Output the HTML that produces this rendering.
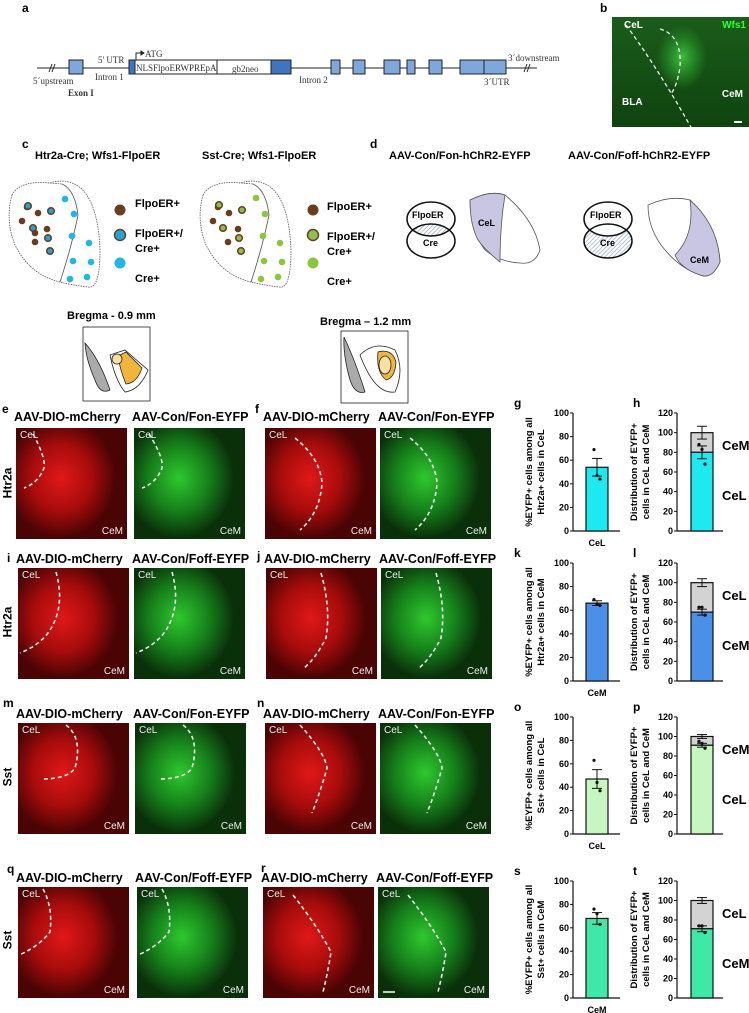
<!DOCTYPE html>
<html><head><meta charset="utf-8">
<style>
body{margin:0;background:#fff;}
#root{position:relative;width:749px;height:1013px;overflow:hidden;font-family:"Liberation Sans",Arial,sans-serif;}
.t{position:absolute;white-space:nowrap;}
.lbl{position:absolute;font-weight:bold;font-size:12px;}
.img{position:absolute;overflow:hidden;}
.ser{font-family:"Liberation Serif",serif;font-size:9px;}
</style></head>
<body>
<div id="root">
<svg id="top" width="749" height="1013" style="position:absolute;left:0;top:0">
 <g stroke="#222" stroke-width="1">
  <line x1="37" y1="68" x2="537" y2="68"/>
  <rect x="69" y="60" width="14" height="14" fill="#7ea7dc"/>
  <rect x="129" y="60" width="6" height="14" fill="#3f74bf"/>
  <rect x="135" y="60" width="82" height="14" fill="#fff"/>
  <rect x="217" y="60" width="54" height="14" fill="#fff"/>
  <rect x="271" y="60" width="20" height="14" fill="#3f74bf"/>
  <rect x="331" y="60" width="9" height="14" fill="#7ea7dc"/>
  <rect x="353" y="60" width="12" height="14" fill="#7ea7dc"/>
  <rect x="384" y="60" width="16" height="14" fill="#7ea7dc"/>
  <rect x="407" y="60" width="8" height="14" fill="#7ea7dc"/>
  <rect x="429" y="60" width="13" height="14" fill="#7ea7dc"/>
  <rect x="460" y="60" width="24" height="14" fill="#7ea7dc"/>
  <rect x="484" y="60" width="22" height="14" fill="#7ea7dc"/>
  <line x1="49" y1="72" x2="52" y2="64"/><line x1="52" y1="72" x2="55" y2="64"/>
  <line x1="524" y1="72" x2="527" y2="64"/><line x1="527" y1="72" x2="530" y2="64"/>
  <path d="M136 60 V53 H143" fill="none"/><path d="M141 51 L144 53 L141 55Z" fill="#222"/>
 </g>
 <g class="ser" fill="#333" font-family="Liberation Serif, serif" font-size="9">
  <text x="98" y="63">5' UTR</text>
  <text x="145" y="57">ATG</text>
  <text x="136" y="71">NLSFlpoERWPREpA</text>
  <text x="232" y="72">gb2neo</text>
  <text x="33" y="84">5´upstream</text>
  <text x="95" y="80">Intron 1</text>
  <text x="68" y="96" font-weight="bold">Exon I</text>
  <text x="299" y="83">Intron 2</text>
  <text x="484" y="85">3´UTR</text>
  <text x="508" y="61">3´downstream</text>
 </g>
 <g fill="none" stroke="#555" stroke-width="0.8" stroke-dasharray="1.5 1">
  <path d="M12 195 Q20 180 50 183 L62 184 Q75 190 78 215 Q72 245 60 282 Q30 275 15 245 Q5 220 12 195Z"/>
  <path d="M50 183 Q65 178 78 186 Q98 200 100 250 Q100 290 88 287 Q72 285 60 282 Q72 245 78 215 Q75 190 62 184"/>
 </g>
 <g fill="none" stroke="#555" stroke-width="0.8" stroke-dasharray="1.5 1">
  <path d="M203 195 Q211 180 241 183 L253 184 Q266 190 269 215 Q263 245 251 282 Q221 275 206 245 Q196 220 203 195Z"/>
  <path d="M241 183 Q256 178 269 186 Q289 200 291 250 Q291 290 279 287 Q263 285 251 282 Q263 245 269 215 Q266 190 253 184"/>
 </g>
 <g id="dots"></g>
 <defs><pattern id="hatch" width="3" height="3" patternUnits="userSpaceOnUse" patternTransform="rotate(45)"><rect width="3" height="3" fill="#fff"/><line x1="0" y1="0" x2="0" y2="3" stroke="#8aa0b8" stroke-width="1.2"/></pattern></defs>
 <g stroke="#111" stroke-width="1.5">
  <clipPath id="c1"><ellipse cx="431" cy="219" rx="24" ry="17"/></clipPath>
  <ellipse cx="431" cy="241" rx="24" ry="17" fill="url(#hatch)" clip-path="url(#c1)" stroke="none"/>
  <ellipse cx="431" cy="219" rx="24" ry="17" fill="none"/>
  <ellipse cx="431" cy="241" rx="24" ry="17" fill="none"/>
 </g>
 <path d="M470 200 Q490 190 505 195 Q535 220 540 250 Q535 265 520 263 Q500 262 485 250 Q470 230 470 200Z" fill="#fff" stroke="#555" stroke-width="0.8"/>
 <path d="M470 200 Q490 190 505 195 Q500 225 500 262 Q485 250 478 240 Q470 225 470 200Z" fill="#c8c6e2" stroke="#555" stroke-width="0.8"/>
 <g stroke="#111" stroke-width="1.5">
  <mask id="m2"><rect x="560" y="190" width="100" height="80" fill="#fff"/><ellipse cx="608" cy="219" rx="24" ry="17" fill="#000"/></mask>
  <ellipse cx="608" cy="241" rx="24" ry="17" fill="url(#hatch)" mask="url(#m2)" stroke="none"/>
  <ellipse cx="608" cy="219" rx="24" ry="17" fill="none"/>
  <ellipse cx="608" cy="241" rx="24" ry="17" fill="none"/>
 </g>
 <path d="M648 205 Q670 195 690 200 Q718 225 720 262 Q712 280 700 275 Q680 268 665 250 Q648 230 648 205Z" fill="#fff" stroke="#555" stroke-width="0.8"/>
 <path d="M690 200 Q718 225 720 262 Q712 280 700 275 Q680 268 675 255 Q695 235 690 200Z" fill="#c8c6e2" stroke="#555" stroke-width="0.8"/>
 <g stroke="#222" stroke-width="0.8">
  <rect x="83" y="327" width="67" height="74" fill="#fff"/>
  <path d="M85 343 Q100 360 110 390 Q100 395 95 380 Q86 360 85 343Z" fill="#aaa"/>
  <path d="M110 355 L125 350 L148 370 Q140 390 125 392 Q115 380 110 355Z" fill="#fff"/>
  <path d="M118 356 L126 352 L142 368 Q137 383 126 384 Q120 370 118 356Z" fill="#f2b53c"/>
  <circle cx="117" cy="359" r="5" fill="#f8e0a0"/>
 </g>
 <g stroke="#222" stroke-width="0.8">
  <rect x="341" y="331" width="67" height="72" fill="#fff"/>
  <path d="M344 337 Q355 360 365 392 Q355 395 350 380 Q343 355 344 337Z" fill="#aaa"/>
  <path d="M360 355 Q375 340 395 350 Q405 370 395 392 Q375 395 360 355Z" fill="#fff"/>
  <path d="M378 352 Q392 348 396 362 Q395 378 386 380 Q376 372 378 352Z" fill="#f2b53c"/>
  <ellipse cx="385" cy="365" rx="6" ry="9" fill="#f8e0a0"/>
 </g>
 <g id="charts"></g>
</svg>

<div class="lbl" style="left:22px;top:1px">a</div>
<div class="lbl" style="left:600px;top:1px">b</div>
<div class="img" style="left:612px;top:17px;width:137px;height:110px;background:radial-gradient(ellipse 25px 32px at 70px 40px,#3fb83f,#1e7a1e 60%,transparent 100%),linear-gradient(#1a5d1a,#0f430f)">
 <svg width="137" height="110" style="position:absolute;left:0;top:0"><path d="M14 8 Q45 50 80 112" stroke="#fff" stroke-width="1.2" stroke-dasharray="4 3" fill="none"/><path d="M48 12 Q70 18 68 50 Q65 70 58 78" stroke="#fff" stroke-width="1.2" stroke-dasharray="4 3" fill="none"/><line x1="122" y1="105" x2="130" y2="105" stroke="#fff" stroke-width="2"/></svg>
 <span class="t" style="left:12px;top:3px;color:#fff;font-weight:bold;font-size:10px">CeL</span>
 <span class="t" style="right:3px;top:3px;color:#3f3;font-weight:bold;font-size:10px">Wfs1</span>
 <span class="t" style="left:10px;top:80px;color:#fff;font-weight:bold;font-size:10px">BLA</span>
 <span class="t" style="right:6px;top:72px;color:#fff;font-weight:bold;font-size:10px">CeM</span>
</div>

<div class="lbl" style="left:22px;top:137px">c</div>
<div class="t" style="left:35px;top:150px;font-size:11px;font-weight:bold">Htr2a-Cre; Wfs1-FlpoER</div>
<div class="t" style="left:202px;top:150px;font-size:11px;font-weight:bold">Sst-Cre; Wfs1-FlpoER</div>
<div class="t" style="left:135px;top:197px;font-size:11px;font-weight:bold;line-height:15px">FlpoER+<br><br style="line-height:6px">FlpoER+/<br>Cre+<br><br style="line-height:6px">Cre+</div>
<div class="t" style="left:327px;top:200px;font-size:11px;font-weight:bold;line-height:15px">FlpoER+<br><br style="line-height:6px">FlpoER+/<br>Cre+<br><br style="line-height:6px">Cre+</div>
<div class="lbl" style="left:370px;top:137px">d</div>
<div class="t" style="left:389px;top:150px;font-size:11px;font-weight:bold">AAV-Con/Fon-hChR2-EYFP</div>
<div class="t" style="left:568px;top:150px;font-size:11px;font-weight:bold">AAV-Con/Foff-hChR2-EYFP</div>
<div class="t" style="left:412px;top:210px;font-size:9px;font-weight:bold">FlpoER</div>
<div class="t" style="left:423px;top:238px;font-size:9px;font-weight:bold">Cre</div>
<div class="t" style="left:590px;top:210px;font-size:9px;font-weight:bold">FlpoER</div>
<div class="t" style="left:600px;top:238px;font-size:9px;font-weight:bold">Cre</div>
<div class="t" style="left:478px;top:218px;font-size:9px;font-weight:bold">CeL</div>
<div class="t" style="left:690px;top:255px;font-size:9px;font-weight:bold">CeM</div>
<div class="t" style="left:67px;top:310px;font-size:11px;font-weight:bold">Bregma - 0.9 mm</div>
<div class="t" style="left:320px;top:316px;font-size:11px;font-weight:bold">Bregma – 1.2 mm</div>

<div class="t" style="left:-8px;top:476px;font-size:12px;font-weight:bold;transform:rotate(-90deg)">Htr2a</div>
<div class="t" style="left:-8px;top:615px;font-size:12px;font-weight:bold;transform:rotate(-90deg)">Htr2a</div>
<div class="t" style="left:-2px;top:770px;font-size:12px;font-weight:bold;transform:rotate(-90deg)">Sst</div>
<div class="t" style="left:-2px;top:933px;font-size:12px;font-weight:bold;transform:rotate(-90deg)">Sst</div>
<div id="imgs"></div>
</div>

<script>
const gCategories=['CeL'];
const gMeans=[54];
const gErrors=[7.5];
const gPoints=[69,47,44];
const hLower=[80];
const hLowerErr=[6.5];
const hTotalErr=[6.5];
const hPoints=[88,83,68];
const hLabels=['CeM','CeL'];
const kCategories=['CeM'];
const kMeans=[66];
const kErrors=[2];
const kPoints=[69,65,64];
const lLower=[70];
const lLowerErr=[3];
const lTotalErr=[4];
const lPoints=[75,75,67];
const lLabels=['CeL','CeM'];
const oCategories=['CeL'];
const oMeans=[47];
const oErrors=[8];
const oPoints=[63,44,37];
const pLower=[91];
const pLowerErr=[2];
const pTotalErr=[2];
const pPoints=[95,93,88];
const pLabels=['CeM','CeL'];
const sCategories=['CeM'];
const sMeans=[68];
const sErrors=[5];
const sPoints=[76,72,63];
const tLower=[71];
const tLowerErr=[3];
const tTotalErr=[3];
const tPoints=[74,74,67];
const tLabels=['CeL','CeM'];
const singleTicks=[0,20,40,60,80,100];
const stackTicks=[0,20,40,60,80,100,120];

const NS='http://www.w3.org/2000/svg';
const charts=document.getElementById('charts');
function mk(tag,attrs,parent){const e=document.createElementNS(NS,tag);for(const k in attrs)e.setAttribute(k,attrs[k]);(parent||charts).appendChild(e);return e;}
function txt(s,attrs,parent){const e=mk('text',attrs,parent);e.textContent=s;return e;}

function axis(g,ax,top,bottom,max,ticks,xEnd){
  const y=v=>bottom-(v/max)*(bottom-top);
  const a=mk('line',{x1:ax,y1:top,x2:ax,y2:bottom,stroke:'#111','stroke-width':1.2},g);
  
  
  mk('line',{x1:ax,y1:bottom,x2:xEnd,y2:bottom,stroke:'#111','stroke-width':1.2},g);
  ticks.forEach(t=>{
    mk('line',{x1:ax-3,y1:y(t),x2:ax,y2:y(t),stroke:'#111','stroke-width':1},g);
    const tl=txt(String(t),{x:ax-4,y:y(t)+3,'text-anchor':'end','font-size':9,'font-weight':'bold'},g);
    
    
  });
  return y;
}
function ytitle(g,x,cy,l1,l2){
  const t=txt('',{transform:`translate(${x},${cy}) rotate(-90)`,'text-anchor':'middle','font-size':9.5,'font-weight':'bold'},g);
  
  
  const a=mk('tspan',{x:0,dy:0},t);a.textContent=l1;
  const b=mk('tspan',{x:0,dy:12},t);b.textContent=l2;
}
function dots(g,cx,y,pts){
  const off=[-3,0,3];
  pts.forEach((p,i)=>{const d=mk('circle',{cx:cx+off[i%3],cy:y(p),r:1.6,fill:'#111'},g);
    
    });
}
function errbar(g,cx,y,m,e,w){
  mk('line',{x1:cx,y1:y(m-e),x2:cx,y2:y(m+e),stroke:'#111','stroke-width':1},g);
  mk('line',{x1:cx-w,y1:y(m+e),x2:cx+w,y2:y(m+e),stroke:'#111','stroke-width':1},g);
  mk('line',{x1:cx-w,y1:y(m-e),x2:cx+w,y2:y(m-e),stroke:'#111','stroke-width':1},g);
}
function single(letter,top,bottom,cats,means,errs,pts,color,l1,l2){
  const g=mk('g',{});
  
  
  txt(letter,{x:514,y:top-6,'font-size':12,'font-weight':'bold'},g);
  const y=axis(g,573,top,bottom,100,singleTicks,620);
  const b=mk('rect',{x:586,y:y(means[0]),width:22,height:bottom-y(means[0]),fill:color,stroke:'#111','stroke-width':1.2},g);
  
  
  errbar(g,597,y,means[0],errs[0],5);
  dots(g,597,y,pts);
  const c=txt(cats[0],{x:597,y:bottom+15,'text-anchor':'middle','font-size':9,'font-weight':'bold'},g);
  
  
  ytitle(g,532,(top+bottom)/2,l1,l2);
}
function stacked(letter,top,bottom,lower,lerr,terr,pts,labels,color){
  const g=mk('g',{});
  
  
  txt(letter,{x:633,y:top-6,'font-size':12,'font-weight':'bold'},g);
  const y=axis(g,677,top,bottom,120,stackTicks,723);
  const up=mk('rect',{x:691,y:y(100),width:22,height:y(lower[0])-y(100),fill:'#d3d3d3',stroke:'#111','stroke-width':1.2},g);
  
  
  const lo=mk('rect',{x:691,y:y(lower[0]),width:22,height:bottom-y(lower[0]),fill:color,stroke:'#111','stroke-width':1.2},g);
  
  
  errbar(g,702,y,100,terr[0],5);
  errbar(g,702,y,lower[0],lerr[0],5);
  dots(g,702,y,pts);
  const a=txt(labels[0],{x:722,y:top+37,'font-size':13,'font-weight':'bold'},g);
  
  
  const b2=txt(labels[1],{x:722,y:top+87,'font-size':13,'font-weight':'bold'},g);
  
  
  ytitle(g,637,(top+bottom)/2,'Distribution of EYFP+','cells in CeL and CeM');
}
single('g',413,531,gCategories,gMeans,gErrors,gPoints,'#1de9f0','%EYFP+ cells among all','Htr2a+ cells in CeL');
stacked('h',413,531,hLower,hLowerErr,hTotalErr,hPoints,hLabels,'#1de9f0');
single('k',563,681,kCategories,kMeans,kErrors,kPoints,'#4a8fe8','%EYFP+ cells among all','Htr2a+ cells in CeM');
stacked('l',563,681,lLower,lLowerErr,lTotalErr,lPoints,lLabels,'#4a8fe8');
single('o',717,834,oCategories,oMeans,oErrors,oPoints,'#c6f7c0','%EYFP+ cells among all','Sst+ cells in CeL');
stacked('p',717,834,pLower,pLowerErr,pTotalErr,pPoints,pLabels,'#c6f7c0');
single('s',881,998,sCategories,sMeans,sErrors,sPoints,'#3ee8a6','%EYFP+ cells among all','Sst+ cells in CeM');
stacked('t',881,998,tLower,tLowerErr,tTotalErr,tPoints,tLabels,'#3ee8a6');

const dg=document.getElementById('dots');
function dot(cx,cy,r,fill,stroke){mk('circle',{cx,cy,r,fill,stroke:stroke||'none','stroke-width':stroke?1.5:0},dg);}
[[27,207],[22,221],[38,213],[35,233],[47,229],[35,242]].forEach(p=>dot(p[0],p[1],3.3,'#6b3d1f'));
[[27,207],[50,212],[32,229],[47,239],[49,252]].forEach(p=>dot(p[0]+1,p[1]-1,3.3,'#1aa7df','#6b3d1f'));
[[65,199],[74,214],[72,236],[89,243],[91,262],[73,261],[70,279],[87,277]].forEach(p=>dot(p[0],p[1],3.3,'#1fb6ea'));
dot(120,210,5.5,'#6b3d1f');dot(120,235,5.5,'#1aa7df','#6b3d1f');dot(120,263,5.5,'#1fb6ea');
[[218,207],[213,221],[229,213],[238,229],[228,242]].forEach(p=>dot(p[0],p[1],3.3,'#6b3d1f'));
[[218,206],[241,211],[222,229],[238,239],[240,252]].forEach(p=>dot(p[0]+1,p[1]-1,3.3,'#8bc34a','#6b3d1f'));
[[256,198],[265,214],[263,236],[280,243],[282,262],[264,261],[261,279],[278,277]].forEach(p=>dot(p[0],p[1],3.3,'#8cc63f'));
dot(313,210,5.5,'#6b3d1f');dot(313,235,5.5,'#8bc34a','#6b3d1f');dot(313,263,5.5,'#8cc63f');

const imgs=document.getElementById('imgs');
const panels=[
 ['e',2,406,423,428,[[16,'red','AAV-DIO-mCherry','M17 6 Q30 30 28 40 Q22 55 8 60'],[134,'green','AAV-Con/Fon-EYFP','M15 6 Q30 30 28 40 Q22 55 8 60']]],
 ['f',255,406,423,428,[[265,'red','AAV-DIO-mCherry','M30 10 Q55 30 57 55 Q55 85 35 102'],[380,'green','AAV-Con/Fon-EYFP','M30 10 Q55 30 57 55 Q55 85 35 102']]],
 ['i',7,555,565,568,[[18,'red','AAV-DIO-mCherry','M38 4 Q48 40 30 65 Q20 78 2 85'],[134,'green','AAV-Con/Foff-EYFP','M38 4 Q48 40 30 65 Q20 78 2 85']]],
 ['j',257,553,565,568,[[266,'red','AAV-DIO-mCherry','M55 5 Q65 40 60 70 Q50 90 38 100'],[381,'green','AAV-Con/Foff-EYFP','M55 5 Q65 40 60 70 Q50 90 38 100']]],
 ['m',3,700,720,723,[[18,'red','AAV-DIO-mCherry','M48 2 Q65 15 57 45 Q50 56 23 56'],[135,'green','AAV-Con/Fon-EYFP','M48 2 Q65 15 57 45 Q50 56 23 56']]],
 ['n',257,700,720,723,[[265,'red','AAV-DIO-mCherry','M35 2 Q60 30 62 45 Q55 70 47 90'],[380,'green','AAV-Con/Fon-EYFP','M35 2 Q60 30 62 45 Q55 70 47 90']]],
 ['q',7,866,884,887,[[18,'red','AAV-DIO-mCherry','M25 2 Q35 20 32 45 Q20 60 1 68'],[137,'green','AAV-Con/Foff-EYFP','M25 2 Q35 20 32 45 Q20 60 1 68']]],
 ['r',261,865,884,887,[[263,'red','AAV-DIO-mCherry','M30 8 Q55 40 68 65 Q65 85 60 105'],[378,'green','AAV-Con/Foff-EYFP','M30 8 Q55 40 68 65 Q65 85 60 105']]]
];
panels.forEach(p=>{
  const L=document.createElement('div');L.className='lbl';L.style.left=p[1]+'px';L.style.top=(p[2]-4)+'px';L.textContent=p[0];
  
  
  imgs.appendChild(L);
  p[5].forEach((im,idx)=>{
    const T=document.createElement('div');T.className='t';T.style.left=(im[0]-2)+'px';T.style.top=(p[3]-13)+'px';
    T.style.fontSize='12.5px';T.style.fontWeight='bold';T.textContent=im[2];
    
    
    imgs.appendChild(T);
    const D=document.createElement('div');D.className='img';
    
    
    D.style.left=im[0]+'px';D.style.top=p[4]+'px';D.style.width='111px';D.style.height='111px';
    D.style.background = im[1]=='red'
      ? 'radial-gradient(ellipse 55px 60px at 45px 50px,#e01818,#a80c0c 55%,#4a0404 100%)'
      : 'radial-gradient(ellipse 55px 60px at 45px 50px,#2fc82f,#15801a 55%,#0a300a 100%)';
    D.innerHTML='<svg width="111" height="111" style="position:absolute;left:0;top:0"><path d="'+im[3]+'" stroke="#fff" stroke-width="1.5" stroke-dasharray="4 3" fill="none"/>'+(p[0]=='r'&&idx==1?'<line x1="5" y1="105" x2="17" y2="105" stroke="#fff" stroke-width="1.5"/>':'')+'</svg>'+
      '<span class="t" style="left:4px;top:2px;color:#eee;font-size:10px">CeL</span><span class="t" style="right:4px;bottom:2px;color:#eee;font-size:10px">CeM</span>';
    imgs.appendChild(D);
  });
});
</script>
</body></html>
